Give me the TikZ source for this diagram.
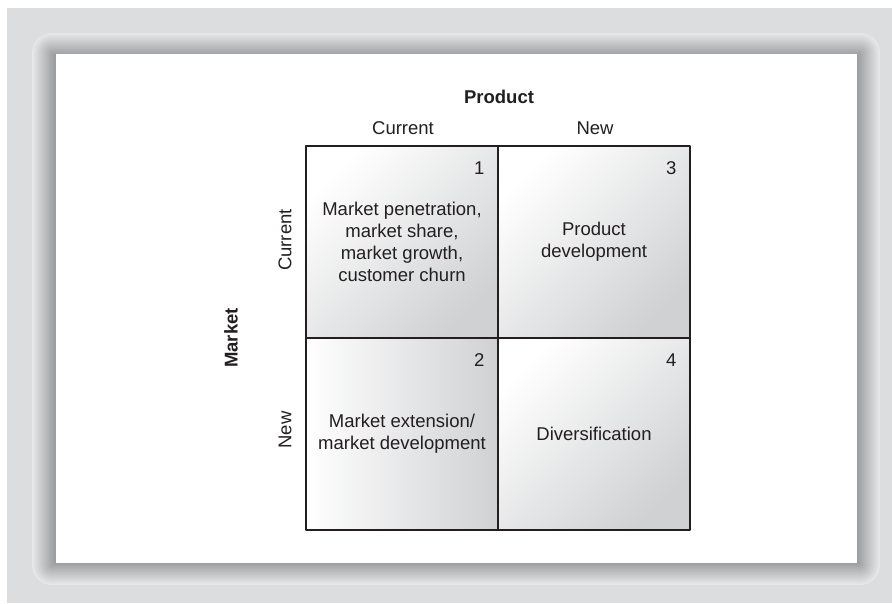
\documentclass[tikz,border=0pt]{standalone}
\usepackage{fontspec}
\setmainfont{Liberation Sans}
\definecolor{bggray}{HTML}{DCDDDF}
\definecolor{bandlight}{HTML}{E7E8EA}
\definecolor{banddark}{HTML}{9D9EA1}
\definecolor{cellgray}{HTML}{D0D1D3}
\definecolor{inkgray}{HTML}{231F20}

\begin{document}
\begin{tikzpicture}[x=1pt,y=-1pt,line cap=round,line join=round,
  cell/.style={draw=inkgray,line width=1.3pt,minimum width=192pt,minimum height=192pt,inner sep=0pt,align=center,text=inkgray,font=\fontsize{18.5}{22}\selectfont},
  num/.style={anchor=north east,inner sep=0pt,text=inkgray,font=\fontsize{18.5}{22}\selectfont},
  lbl/.style={inner sep=0pt,text=inkgray,font=\fontsize{18.5}{22}\selectfont},
  hd/.style={inner sep=0pt,text=inkgray,font=\fontsize{18.5}{22}\selectfont\bfseries}]
\useasboundingbox (0,0) rectangle (892,603);
\fill[bggray] (7,8) rectangle (892,603);
% frame with shadow band
\foreach \i in {0,...,22}{
  \pgfmathsetmacro\mix{100-\i*100/22}
  \pgfmathsetmacro\rad{max(20-\i,0.01)}
  \fill[bandlight!\mix!banddark,rounded corners=\rad pt] (32+\i,33+\i) rectangle (880-\i,585-\i);
}
\fill[white] (56,54) rectangle (857,563);
% headings
\node[hd] (prod) at (499,97) {Product};
\node[lbl] (curP) at (403,128) {Current};
\node[lbl] (newP) at (595,128) {New};
\node[hd,rotate=90] (mkt) at (231,338) {Market};
\node[lbl,rotate=90] (curM) at (285,240) {Current};
\node[lbl,rotate=90] (newM) at (285,430) {New};
% the four cells
\node[cell,top color=white,bottom color=cellgray,shading angle=45] (pen) at (402,242) {Market penetration,\\market share,\\market growth,\\customer churn};
\node[cell,top color=white,bottom color=cellgray,shading angle=45] (pdev) at (594,242) {Product\\development};
\node[cell,left color=white,right color=cellgray] (ext) at (402,434) {Market extension/\\market development};
\node[cell,top color=white,bottom color=cellgray,shading angle=45] (div) at (594,434) {Diversification};
\node[num] (n1) at ([shift={(-14,16)}]pen.north east) {1};
\node[num] (n3) at ([shift={(-14,16)}]pdev.north east) {3};
\node[num] (n2) at ([shift={(-14,16)}]ext.north east) {2};
\node[num] (n4) at ([shift={(-14,16)}]div.north east) {4};
\end{tikzpicture}
\end{document}
